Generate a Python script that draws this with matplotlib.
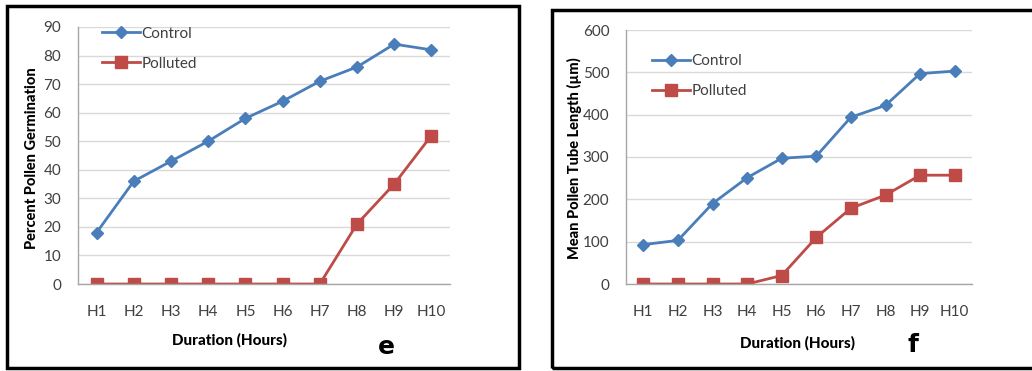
import matplotlib
matplotlib.use("Agg")
import matplotlib.pyplot as plt
from matplotlib.patches import Rectangle

plt.rcParams['font.family'] = ['Lato', 'DejaVu Sans']

categories = ["H1", "H2", "H3", "H4", "H5", "H6", "H7", "H8", "H9", "H10"]
germ_control = [18, 36, 43, 50, 58, 64, 71, 76, 84, 82]
germ_polluted = [0, 0, 0, 0, 0, 0, 0, 21, 35, 52]
tube_control = [93, 103, 190, 251, 297, 302, 394, 422, 497, 503]
tube_polluted = [0, 0, 0, 0, 20, 110, 179, 210, 257, 257]

W, H = 1032, 371
fig = plt.figure(figsize=(W / 100, H / 100), dpi=100)

BLUE = "#4A7EBB"
RED = "#BE4B48"
GRID = "#D9D9D9"
AXC = "#A6A6A6"
TXT = "#404040"


def px_axes(x0, y0, x1, y1):
    return fig.add_axes([x0 / W, 1 - y1 / H, (x1 - x0) / W, (y1 - y0) / H])


def style(ax, ymax, step, ylabel, xlabel, letter, lx, ly, labx, laby, xlx, xly):
    x = list(range(1, len(categories) + 1))
    ax.set_xlim(0.5, len(categories) + 0.5)
    ax.set_ylim(0, ymax)
    ax.set_yticks(range(0, ymax + 1, step))
    ax.set_xticks(x)
    ax.set_xticklabels(categories)
    ax.yaxis.grid(True, color=GRID, lw=1)
    ax.set_axisbelow(True)
    for s in ["top", "right"]:
        ax.spines[s].set_visible(False)
    for s in ["left", "bottom"]:
        ax.spines[s].set_color(AXC)
        ax.spines[s].set_linewidth(1)
    ax.tick_params(axis="y", length=0, pad=12, labelsize=11, labelcolor=TXT)
    ax.tick_params(axis="x", length=0, pad=15, labelsize=11, labelcolor=TXT)
    fig.text(labx / W, 1 - laby / H, ylabel, rotation=90, ha="center", va="center",
             fontsize=10.5, fontweight="black", color="#000000")
    fig.text(xlx / W, 1 - xly / H, xlabel, ha="center", va="center",
             fontsize=11, fontweight="black", color="#000000")
    fig.text(lx / W, 1 - ly / H, letter, ha="center", va="center",
             fontsize=18, fontweight="bold", family=['DejaVu Sans'], color="#000000")


xs = list(range(1, len(categories) + 1))

# Left panel
ax1 = px_axes(78, 27, 450, 284)
l1, = ax1.plot(xs, germ_control, color=BLUE, lw=2, marker="D", ms=6, mfc=BLUE, mec=BLUE, label="Control")
l2, = ax1.plot(xs, germ_polluted, color=RED, lw=2, marker="s", ms=8.5, mfc=RED, mec=RED, label="Polluted")
style(ax1, 90, 10, "Percent Pollen Germination", "Duration (Hours)", "e",
      386, 347, 32, 158, 229, 340)
ax1.legend(handles=[l1, l2], loc="upper left", bbox_to_anchor=((88 - 78) / 372, 1.055),
           frameon=False, fontsize=11, handlelength=2.5, handletextpad=0.1,
           labelspacing=1.05, labelcolor=TXT)

# Right panel
ax2 = px_axes(626, 30, 972, 284)
r1, = ax2.plot(xs, tube_control, color=BLUE, lw=2, marker="D", ms=6, mfc=BLUE, mec=BLUE, label="Control")
r2, = ax2.plot(xs, tube_polluted, color=RED, lw=2, marker="s", ms=8.5, mfc=RED, mec=RED, label="Polluted")
style(ax2, 600, 100, "Mean Pollen Tube Length (\u00b5m)", "Duration (Hours)", "f",
      913, 345, 574, 158, 798, 343)
ax2.legend(handles=[r1, r2], loc="upper left", bbox_to_anchor=((638 - 626) / 346, 0.96),
           frameon=False, fontsize=11, handlelength=2.5, handletextpad=0.1,
           labelspacing=1.05, labelcolor=TXT)

# Panel borders
fig.patches.append(Rectangle((7 / W, 1 - 368 / H), (519 - 7) / W, (368 - 6) / H,
                             transform=fig.transFigure, fill=False, ec="black", lw=2.5))
fig.patches.append(Rectangle((552 / W, 1 - 368 / H), (1040 - 552) / W, (368 - 10) / H,
                             transform=fig.transFigure, fill=False, ec="black", lw=2.5,
                             clip_on=False))

fig.savefig("out.png", dpi=100)
